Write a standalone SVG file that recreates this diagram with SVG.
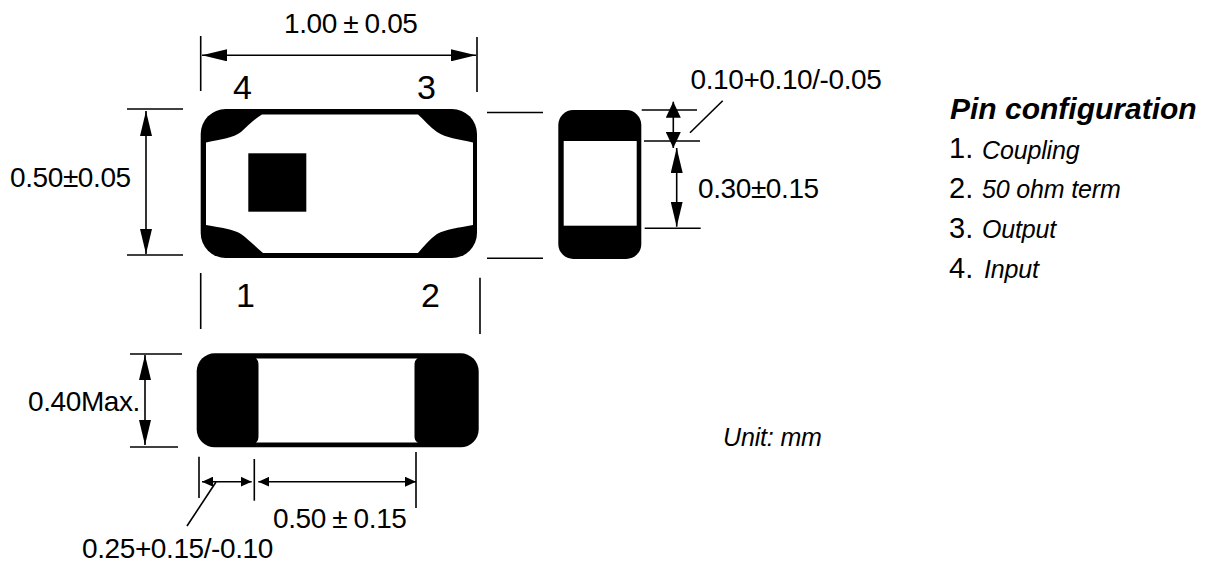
<svg xmlns="http://www.w3.org/2000/svg" width="1205" height="564" viewBox="0 0 1205 564">
<defs>
<marker id="v" viewBox="0 0 25 12" refX="25" refY="6" markerWidth="25" markerHeight="12" markerUnits="userSpaceOnUse" orient="auto-start-reverse"><path d="M0 0L25 6L0 12Z" fill="#000"/></marker>
<marker id="m" viewBox="0 0 16 15" refX="16" refY="7.5" markerWidth="16" markerHeight="15" markerUnits="userSpaceOnUse" orient="auto-start-reverse"><path d="M0 0L16 7.500L0 15Z" fill="#000"/></marker>
<marker id="s" viewBox="0 0 11 10" refX="11" refY="5" markerWidth="11" markerHeight="10" markerUnits="userSpaceOnUse" orient="auto-start-reverse"><path d="M0 0L11 5L0 10Z" fill="#000"/></marker>
</defs>
<style>
text{font-family:"Liberation Sans",Arial,sans-serif;fill:#000}
.t{font-size:28px;letter-spacing:-.4px;word-spacing:-1px}
.n{font-size:34px}
.p{font-size:25px;font-style:italic;letter-spacing:-.15px}
.d{font-size:29px}
line{stroke:#000;stroke-width:1.6;fill:none}
.b{fill:#000}.w{fill:#fff}
</style>
<rect width="1205" height="564" fill="#fff"/>
<g id="top-view">
<rect class="b" x="200.700" y="109" width="276.300" height="149" rx="25"/>
<path class="w" d="M206 142.500C222 139 233 138 241 132C248 126 254 119 262 114.500H418C424 120 430 127 437 132C446 138 458 139 473 142.500V225C458 228 446 229 437 234C430 239 424 246 418 253H263C255 246 248 239 241 234C233 229 222 228 206 225Z"/>
<rect class="b" x="248.300" y="153.300" width="58" height="58.400"/>
</g>
<g id="side-view">
<rect class="b" x="558.300" y="110" width="83" height="149" rx="15"/>
<rect class="w" x="563.700" y="141" width="73" height="84.700"/>
</g>
<g id="bottom-view">
<rect class="b" x="196.700" y="353.300" width="282" height="94" rx="18"/>
<path class="w" d="M256 358.500H417.500C415 360 414.500 362 414.500 366V435C414.500 439 415 441 418 442.500H256C258 441 258.500 439 258.500 435V366C258.500 362 258 360 256 358.500Z"/>
</g>
<g id="connectors">
<line x1="200.700" y1="36" x2="200.700" y2="91"/><line x1="477" y1="37" x2="477" y2="92"/>
<line x1="202" y1="55.300" x2="476" y2="55.300" marker-start="url(#v)" marker-end="url(#v)"/>
<line x1="127" y1="109" x2="183" y2="109"/><line x1="127" y1="255" x2="183" y2="255"/>
<line x1="146" y1="111" x2="146" y2="254" marker-start="url(#v)" marker-end="url(#v)"/>
<line x1="487" y1="112.500" x2="543" y2="112.500"/><line x1="487" y1="258.300" x2="543" y2="258.300"/>
<line x1="200.700" y1="273" x2="200.700" y2="329"/><line x1="480" y1="277.700" x2="480" y2="334"/>
<line x1="641.700" y1="110" x2="697" y2="110"/><line x1="644" y1="141" x2="700" y2="141"/><line x1="644.700" y1="228.300" x2="700.700" y2="228.300"/>
<line x1="673.300" y1="101.700" x2="673.300" y2="148" marker-start="url(#m)" marker-end="url(#m)"/>
<line x1="676.700" y1="148" x2="676.700" y2="226.700" marker-start="url(#v)" marker-end="url(#v)"/>
<line x1="690" y1="132.700" x2="722.700" y2="100.700"/>
<line x1="130" y1="354" x2="182" y2="354"/><line x1="130" y1="447" x2="178" y2="447"/>
<line x1="145" y1="355" x2="145" y2="445" marker-start="url(#v)" marker-end="url(#v)"/>
<line x1="199" y1="456.700" x2="199" y2="498"/><line x1="254.300" y1="459" x2="254.300" y2="500.700"/><line x1="416" y1="452" x2="416" y2="508"/>
<line x1="202" y1="481.700" x2="251.700" y2="481.700" marker-start="url(#s)" marker-end="url(#s)"/>
<line x1="258.300" y1="481.700" x2="416" y2="481.700" marker-start="url(#s)" marker-end="url(#s)"/>
<line x1="216" y1="482" x2="187" y2="526"/>
</g>
<g id="labels">
<text class="t" x="284" y="33">1.00 ± 0.05</text>
<text class="n" x="233" y="99">4</text><text class="n" x="417" y="99">3</text>
<text class="n" x="236" y="307">1</text><text class="n" x="421" y="307">2</text>
<text class="t" x="10" y="187">0.50±0.05</text>
<text class="t" x="690.500" y="89">0.10+0.10/-0.05</text>
<text class="t" x="698" y="198">0.30±0.15</text>
<text class="t" x="28" y="411">0.40Max.</text>
<text class="t" x="273" y="528">0.50 ± 0.15</text>
<text class="t" x="82" y="558">0.25+0.15/-0.10</text>
<text class="p" x="723" y="446">Unit: mm</text>
</g>
<g id="pin-configuration">
<text x="950" y="119" font-size="30" font-weight="bold" font-style="italic">Pin configuration</text>
<text class="d" x="949" y="158">1.</text><text class="p" x="982" y="159">Coupling</text>
<text class="d" x="949" y="198">2.</text><text class="p" x="982" y="198">50 ohm term</text>
<text class="d" x="949" y="238">3.</text><text class="p" x="982" y="238">Output</text>
<text class="d" x="949" y="278">4.</text><text class="p" x="984" y="278">Input</text>
</g>
</svg>
